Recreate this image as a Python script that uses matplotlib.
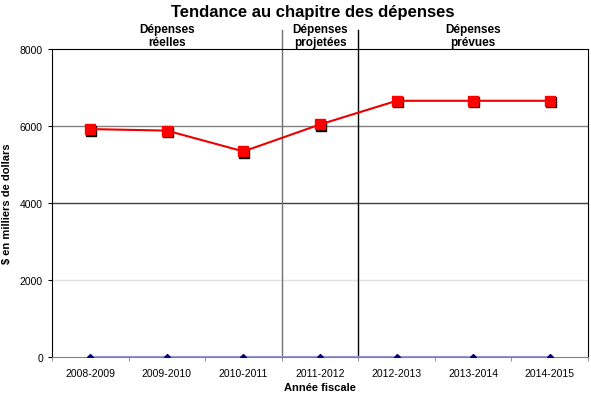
import numpy as np
import matplotlib
matplotlib.use('Agg')
import matplotlib.pyplot as plt
import matplotlib.transforms as mtransforms

plt.rcParams['font.family'] = ['Liberation Sans', 'DejaVu Sans']

# -- data ---------------------------------------------------------------------
years = ['2008-2009', '2009-2010', '2010-2011', '2011-2012',
         '2012-2013', '2013-2014', '2014-2015']
spending = [5920, 5880, 5340, 6040, 6655, 6655, 6655]
other = [0, 0, 0, 0, 0, 0, 0]
yticks = [0, 2000, 4000, 6000, 8000]
sections = ['Dépenses\nréelles', 'Dépenses\nprojetées', 'Dépenses\nprévues']
section_bounds = [(-0.5, 2.5), (2.5, 3.5), (3.5, 6.5)]

# -- figure -------------------------------------------------------------------
fig = plt.figure(figsize=(5.91, 4.02), dpi=100)
ax = fig.add_axes([0.088, 0.1095, 0.907, 0.7661])

x = np.arange(len(years))

# gridlines
ax.axhline(6000, color='#808080', lw=1, zorder=0)
ax.axhline(4000, color='#404040', lw=1, zorder=0)
ax.axhline(2000, color='#e0e0e0', lw=1, zorder=0)

# zero series
ax.plot(x, other, color='#9999dd', lw=1.5, zorder=2)
ax.plot(x, other, ls='none', marker='D', ms=3, color='#000080', zorder=3)

# shadow squares + red series
shadow = mtransforms.offset_copy(ax.transData, fig=fig, x=1, y=-1.5, units='dots')
ax.plot(x, spending, ls='none', marker='s', ms=6.5, color='black',
        transform=shadow, zorder=4)
ax.plot(x, spending, color='#ee0000', lw=1.5, marker='s', ms=6.5,
        mfc='#ff0000', mec='#ff0000', zorder=5)

# section dividers extending above plot
ax.plot([2.5, 2.5], [0, 8500], color='#707070', lw=1, clip_on=False, zorder=1)
ax.plot([3.5, 3.5], [0, 8500], color='black', lw=1, clip_on=False, zorder=1)

for label, (a, b) in zip(sections, section_bounds):
    ax.text((a + b) / 2, 8030, label, ha='center', va='bottom',
            fontsize=8.5, fontweight='bold', linespacing=1.15)

ax.set_xlim(-0.5, 6.5)
ax.set_ylim(0, 8000)
ax.set_xticks(x)
ax.set_xticklabels(years, fontsize=7.5)
ax.set_xticks(np.arange(-0.5, 7, 1), minor=True)
ax.tick_params(axis='x', which='major', length=0, pad=8)
ax.tick_params(axis='x', which='minor', length=3, color='#808080')
ax.set_yticks(yticks)
ax.set_yticklabels([str(v) for v in yticks], fontsize=7.5)
ax.tick_params(axis='y', length=3)

ax.spines['bottom'].set_color('#808080')
for s in ['left', 'top', 'right']:
    ax.spines[s].set_color('black')

ax.set_xlabel('Année fiscale', fontsize=8, fontweight='bold', labelpad=3)
ax.set_ylabel('$ en milliers de dollars', fontsize=8, fontweight='bold', labelpad=6)
fig.suptitle('Tendance au chapitre des dépenses', fontsize=12, fontweight='bold',
             x=0.53, y=0.988)

fig.savefig('out.png', dpi=100)
